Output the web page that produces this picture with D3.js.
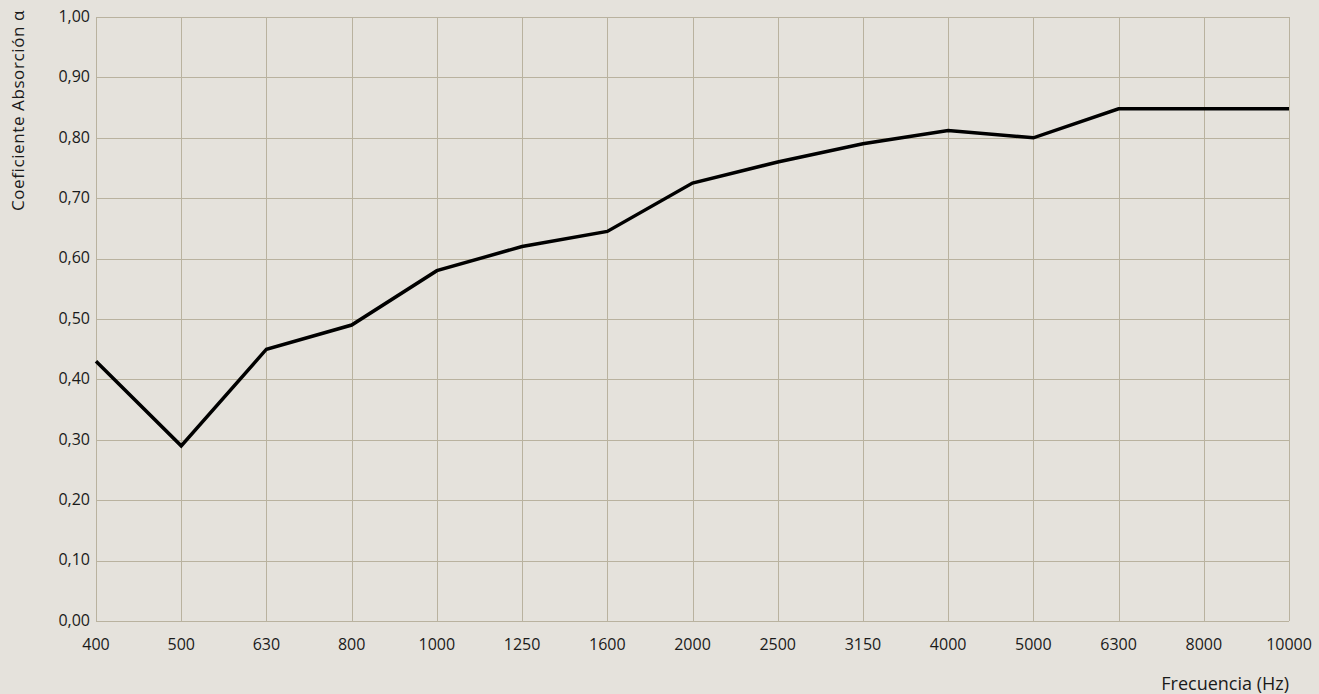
<!DOCTYPE html>
<html>
<head>
  <style>
    body { margin: 0; background: #e5e2dc; }
    svg text { font-family: "Open Sans", Lato, sans-serif; fill: #1a1a1a; }
    .grid line { stroke: #b9b29f; stroke-width: 1px; }
  </style>
</head>
<body>
  <div id="chart"></div>
  <script src="https://d3js.org/d3.v7.min.js"></script>
  <script>
    // frequencies (Hz) and absorption coefficient
    var freqs = ["400","500","630","800","1000","1250","1600","2000","2500","3150","4000","5000","6300","8000","10000"];
    var alpha = [0.43, 0.29, 0.45, 0.49, 0.58, 0.62, 0.645, 0.725, 0.76, 0.79, 0.812, 0.80, 0.848, 0.848, 0.848];
    var yTicks = [0, 0.1, 0.2, 0.3, 0.4, 0.5, 0.6, 0.7, 0.8, 0.9, 1.0];

    var width = 1319, height = 694,
        mLeft = 96, mRight = 1289, mTop = 17, mBottom = 621;

    var svg = d3.select("#chart").append("svg")
      .attr("width", width).attr("height", height);

    var x = d3.scalePoint().domain(freqs).range([mLeft, mRight]);
    var y = d3.scaleLinear().domain([0, 1]).range([mBottom, mTop]);

    var grid = svg.append("g").attr("class", "grid");
    grid.selectAll(".h").data(yTicks).enter().append("line")
      .attr("x1", mLeft).attr("x2", mRight)
      .attr("y1", function(d){ return Math.round(y(d)) + 0.5; })
      .attr("y2", function(d){ return Math.round(y(d)) + 0.5; });
    grid.selectAll(".v").data(freqs).enter().append("line")
      .attr("x1", function(d){ return Math.round(x(d)) + 0.5; })
      .attr("x2", function(d){ return Math.round(x(d)) + 0.5; })
      .attr("y1", mTop).attr("y2", mBottom);

    // y tick labels
    svg.append("g").selectAll("text").data(yTicks).enter().append("text")
      .attr("x", mLeft - 6).attr("y", function(d){ return y(d); })
      .attr("dy", "0.3em").attr("text-anchor", "end")
      .style("font-size", "16px")
      .text(function(d){ return d.toFixed(2).replace(".", ","); });

    // x tick labels
    svg.append("g").selectAll("text").data(freqs).enter().append("text")
      .attr("x", function(d){ return x(d); }).attr("y", mBottom + 29)
      .attr("text-anchor", "middle")
      .style("font-size", "16px")
      .text(function(d){ return d; });

    // line
    var line = d3.line()
      .x(function(d, i){ return x(freqs[i]); })
      .y(function(d){ return y(d); });
    svg.append("path").datum(alpha)
      .attr("d", line)
      .attr("fill", "none")
      .attr("stroke", "#000")
      .attr("stroke-width", 3.5)
      .attr("stroke-linejoin", "miter");

    // axis titles
    svg.append("text")
      .attr("transform", "translate(24," + (mTop - 7) + ") rotate(-90)")
      .attr("text-anchor", "end")
      .style("font-size", "17px")
      .style("letter-spacing", "0.6px")
      .text("Coeficiente Absorción α");

    svg.append("text")
      .attr("x", mRight).attr("y", 690)
      .attr("text-anchor", "end")
      .style("font-size", "18px")
      .text("Frecuencia (Hz)");
  </script>
</body>
</html>
